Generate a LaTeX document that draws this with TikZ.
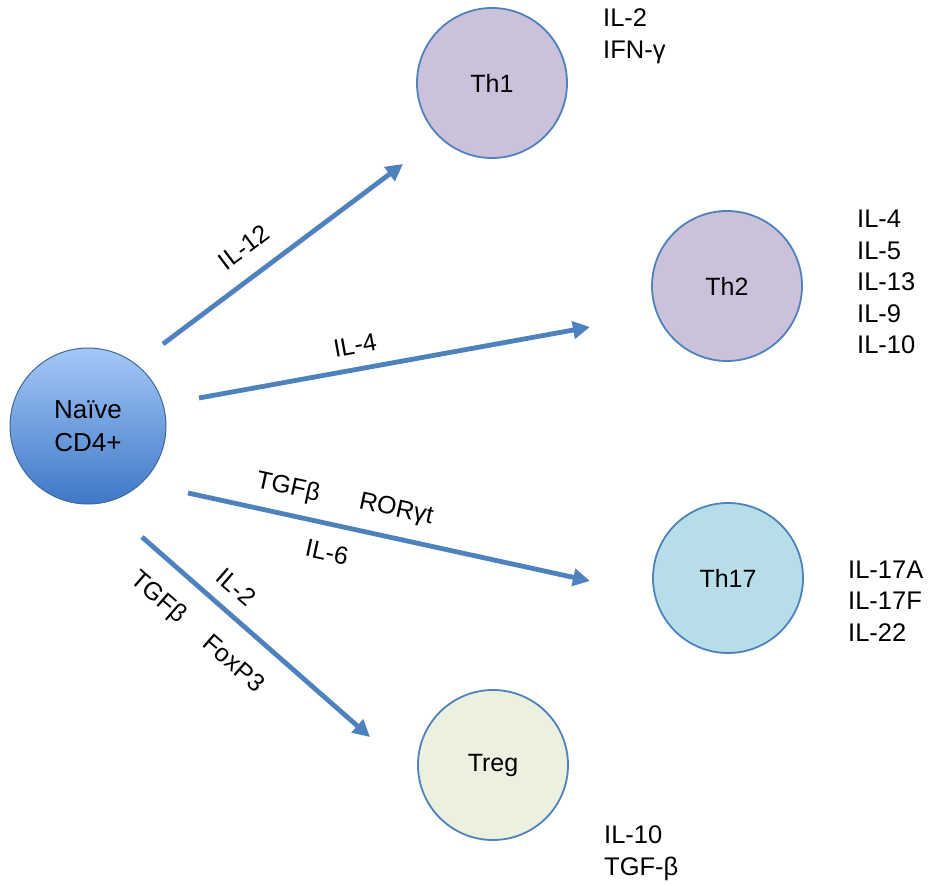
\documentclass[tikz,border=0pt]{standalone}
\usepackage{fontspec}
\setmainfont{Liberation Sans}
\usetikzlibrary{arrows.meta}
\definecolor{edgeblue}{HTML}{4F81BD}
\definecolor{thone}{HTML}{CCC1DA}
\definecolor{thseventeen}{HTML}{B7DEE8}
\definecolor{tregc}{HTML}{EBF1DE}
\definecolor{naivetop}{HTML}{A3C7F7}
\definecolor{naivebot}{HTML}{3F78C6}
\begin{document}
\begin{tikzpicture}[x=1pt,y=-1pt,
  cell/.style={circle,draw=edgeblue,line width=1.8pt,minimum size=150pt,inner sep=0pt,font=\fontsize{25}{30}\selectfont},
  conn/.style={draw=edgeblue,line width=4.8pt,-{Triangle[length=17pt,width=17pt]}},
  lbl/.style={font=\fontsize{25}{30}\selectfont,inner sep=0pt},
  lst/.style={font=\fontsize{25.5}{31.5}\selectfont,align=left,anchor=west,inner sep=0pt}]
\useasboundingbox (0,0) rectangle (930,886);
\fill[white] (0,0) rectangle (930,886);
% cells
\node[cell,minimum size=156pt,draw=edgeblue!80!black,line width=1pt,top color=naivetop,bottom color=naivebot,align=center,font=\fontsize{26}{33}\selectfont] (naive) at (88,426) {Naïve\\CD4+};
\node[cell,fill=thone] (th1) at (492,83) {Th1};
\node[cell,fill=thone] (th2) at (727,286) {Th2};
\node[cell,fill=thseventeen] (th17) at (728,578) {Th17};
\node[cell,fill=tregc] (treg) at (493,765) {Treg};
% connector ends
\coordinate (s1) at (163,344); \coordinate (e1) at (403,164);
\coordinate (s2) at (199,398); \coordinate (e2) at (590,327);
\coordinate (s3) at (188,493); \coordinate (e3) at (590,581);
\coordinate (s4) at (142,537); \coordinate (e4) at (370,737);
\draw[conn] (s1) -- (e1);
\draw[conn] (s2) -- (e2);
\draw[conn] (s3) -- (e3);
\draw[conn] (s4) -- (e4);
% arrow labels
\node[lbl,rotate=36.9] (l1) at (244,247) {IL-12};
\node[lbl,rotate=10.3] (l2) at (355,345) {IL-4};
\node[lbl,rotate=-12.3] (l3a) at (288,488) {TGFβ};
\node[lbl,rotate=-12.3] (l3b) at (396,510) {RORγt};
\node[lbl,rotate=-12.3] (l3c) at (327,552) {IL-6};
\node[lbl,rotate=-41] (l4a) at (236,587) {IL-2};
\node[lbl,rotate=-41] (l4b) at (158,598) {TGFβ};
\node[lbl,rotate=-41] (l4c) at (234,663) {FoxP3};
% cytokine lists
\node[lst] (c1) at (603,36) {IL-2\\IFN-γ};
\node[lst] (c2) at (857,282) {IL-4\\IL-5\\IL-13\\IL-9\\IL-10};
\node[lst] (c3) at (848,601) {IL-17A\\IL-17F\\IL-22};
\node[lst] (c4) at (604,853) {IL-10\\TGF-β};
\end{tikzpicture}
\end{document}
